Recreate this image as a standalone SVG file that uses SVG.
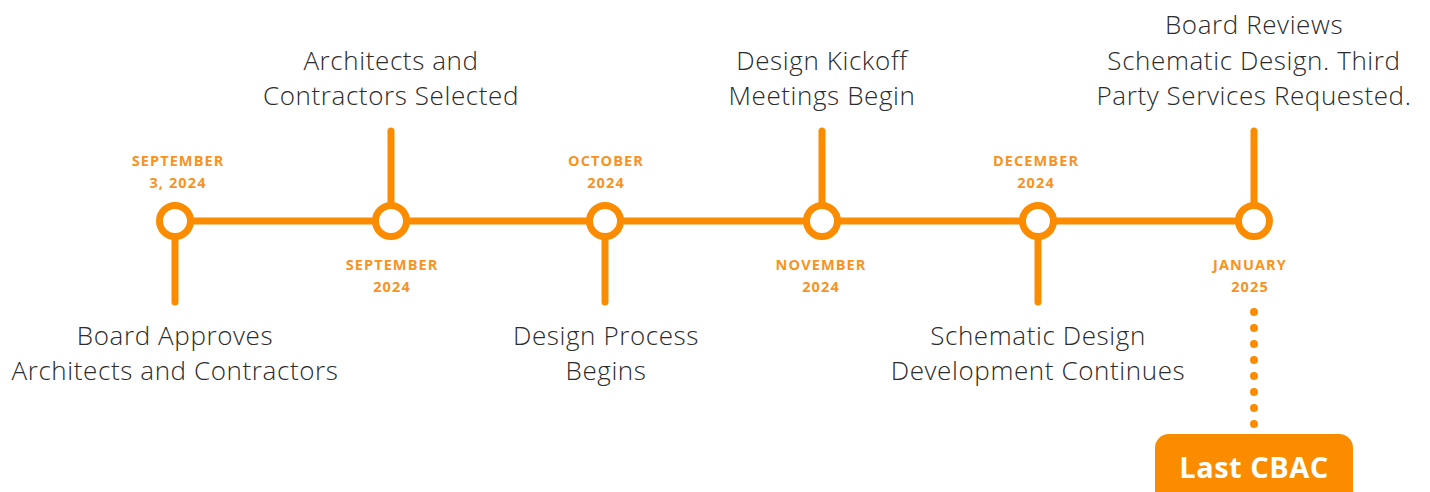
<svg xmlns="http://www.w3.org/2000/svg" width="1430" height="492" viewBox="0 0 1430 492">
<style>
.ln{stroke:#FB8C00;stroke-width:7;stroke-linecap:round;fill:none}
.nd{stroke:#FB8C00;stroke-width:7;fill:#fff}
.dt{font-family:"Open Sans","Liberation Sans",sans-serif;font-weight:700;font-size:14.5px;fill:#F7931E;text-anchor:middle;letter-spacing:1.1px}
.lb{font-family:"Open Sans","Liberation Sans",sans-serif;font-weight:300;font-size:26px;fill:#2b2b2b;text-anchor:middle;letter-spacing:0.6px}
</style>
<rect width="1430" height="492" fill="#fff"/>
<g id="connectors">
<line class="ln" x1="175" y1="221" x2="1254" y2="221"/>
<line class="ln" x1="175" y1="221" x2="175" y2="302"/>
<line class="ln" x1="391" y1="131" x2="391" y2="221"/>
<line class="ln" x1="605" y1="221" x2="605" y2="302"/>
<line class="ln" x1="822" y1="131" x2="822" y2="221"/>
<line class="ln" x1="1038" y1="221" x2="1038" y2="302"/>
<line class="ln" x1="1254" y1="131" x2="1254" y2="221"/>
<line x1="1254" y1="312" x2="1254" y2="426" stroke="#FB8C00" stroke-width="8" stroke-linecap="round" stroke-dasharray="0 16"/>
</g>
<g id="n1">
<circle class="nd" cx="175" cy="221" r="15.5"/>
<text class="dt" x="178" y="166">SEPTEMBER</text>
<text class="dt" x="178" y="188">3, 2024</text>
<text class="lb" x="175" y="345">Board Approves</text>
<text class="lb" x="175" y="380">Architects and Contractors</text>
</g>
<g id="n2">
<circle class="nd" cx="391" cy="221" r="15.5"/>
<text class="dt" x="392" y="270">SEPTEMBER</text>
<text class="dt" x="392" y="292">2024</text>
<text class="lb" x="391" y="70">Architects and</text>
<text class="lb" x="391" y="105">Contractors Selected</text>
</g>
<g id="n3">
<circle class="nd" cx="605" cy="221" r="15.5"/>
<text class="dt" x="606" y="166">OCTOBER</text>
<text class="dt" x="606" y="188">2024</text>
<text class="lb" x="606" y="345">Design Process</text>
<text class="lb" x="606" y="380">Begins</text>
</g>
<g id="n4">
<circle class="nd" cx="822" cy="221" r="15.5"/>
<text class="dt" x="821" y="270">NOVEMBER</text>
<text class="dt" x="821" y="292">2024</text>
<text class="lb" x="822" y="70">Design Kickoff</text>
<text class="lb" x="822" y="105">Meetings Begin</text>
</g>
<g id="n5">
<circle class="nd" cx="1038" cy="221" r="15.5"/>
<text class="dt" x="1036" y="166">DECEMBER</text>
<text class="dt" x="1036" y="188">2024</text>
<text class="lb" x="1038" y="345">Schematic Design</text>
<text class="lb" x="1038" y="380">Development Continues</text>
</g>
<g id="n6">
<circle class="nd" cx="1254" cy="221" r="15.5"/>
<text class="dt" x="1250" y="270">JANUARY</text>
<text class="dt" x="1250" y="292">2025</text>
<text class="lb" x="1254" y="34">Board Reviews</text>
<text class="lb" x="1254" y="70">Schematic Design. Third</text>
<text class="lb" x="1254" y="105">Party Services Requested.</text>
</g>
<g id="last-cbac">
<rect x="1155" y="434" width="198" height="80" rx="14" fill="#FB8C00"/>
<text x="1254" y="478" font-family="'Open Sans','Liberation Sans',sans-serif" font-weight="700" font-size="29" letter-spacing="0.5" fill="#fff" text-anchor="middle">Last CBAC</text>
</g>
</svg>
